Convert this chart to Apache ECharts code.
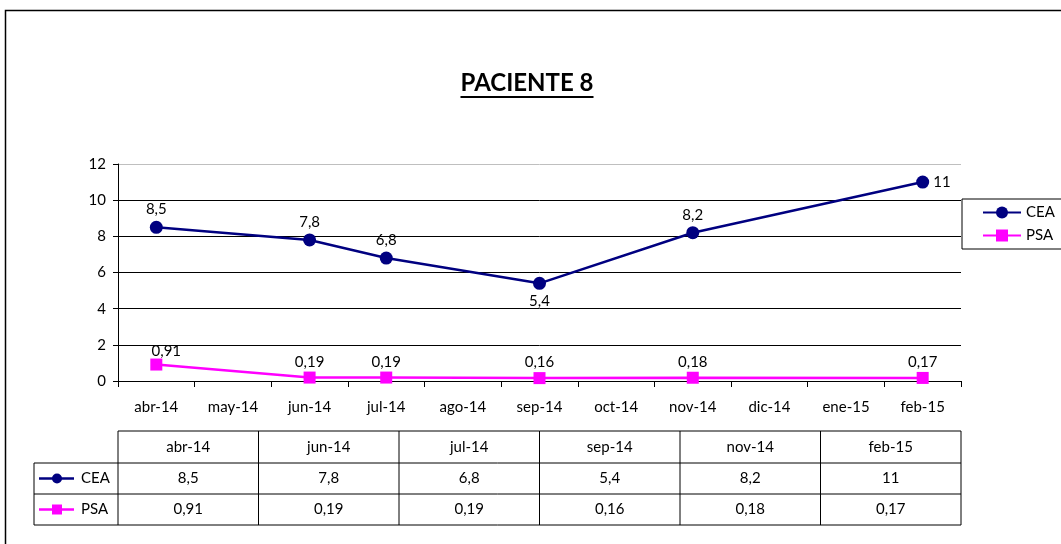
<!DOCTYPE html>
<html><head><meta charset="utf-8">
<script src="https://cdn.jsdelivr.net/npm/echarts@6/dist/echarts.min.js"></script>
<style>html,body{margin:0;padding:0;background:#fff}#c{width:1061px;height:544px}</style>
</head><body><div id="c"></div>
<script>
const months = ['abr-14','may-14','jun-14','jul-14','ago-14','sep-14','oct-14','nov-14','dic-14','ene-15','feb-15'];
const tableMonths = ['abr-14','jun-14','jul-14','sep-14','nov-14','feb-15'];
const cea = [8.5, null, 7.8, 6.8, null, 5.4, null, 8.2, null, null, 11];
const psa = [0.91, null, 0.19, 0.19, null, 0.16, null, 0.18, null, null, 0.17];
const ceaTable = [8.5, 7.8, 6.8, 5.4, 8.2, 11];
const psaTable = [0.91, 0.19, 0.19, 0.16, 0.18, 0.17];
const ceaLabelPos = ['top', null, 'top', 'top', null, 'bottom', null, 'top', null, null, 'right'];
const titleText = 'PACIENTE 8';

const FONT = 'Lato, "Open Sans", sans-serif';
const FS = 15;
const fmt = v => String(v).replace('.', ',');
const G = {left: 118, right: 961, top: 164, bottom: 381};
const NAVY = '#000080', MAG = '#FF00FF';

const chart = echarts.init(document.getElementById('c'));

const TFS = 24;
const mc = document.createElement('canvas').getContext('2d');
mc.font = 'bold ' + TFS + 'px ' + FONT;
const tw = mc.measureText(titleText).width;
const tcx = 527, tcy = 83;

const tbl = [];
tbl.push({type:'text', x:tcx, y:tcy, style:{text:titleText, font:'bold ' + TFS + 'px ' + FONT, fill:'#000', align:'center', verticalAlign:'middle'}, silent:true});
tbl.push({type:'line', shape:{x1:tcx - tw / 2, y1:tcy + 14, x2:tcx + tw / 2, y2:tcy + 14}, style:{stroke:'#000', lineWidth:2}, silent:true});

const colW = (G.right - G.left) / tableMonths.length;
const rowY = [431, 463, 494, 525];
const lblX = 34;
const line = (x1, y1, x2, y2) => ({type:'line', shape:{x1, y1, x2, y2}, style:{stroke:'#000', lineWidth:1}, silent:true});
tbl.push(line(G.left, rowY[0], G.right, rowY[0]));
for (let i = 1; i < 4; i++) tbl.push(line(lblX, rowY[i], G.right, rowY[i]));
tbl.push(line(lblX, rowY[1], lblX, rowY[3]));
for (let j = 0; j <= tableMonths.length; j++) {
  const x = G.left + j * colW;
  tbl.push(line(x, rowY[0], x, rowY[3]));
}
const cellText = (txt, cx, cy) => ({type:'text', x:cx, y:cy, style:{text:txt, font:FS + 'px ' + FONT, fill:'#000', align:'center', verticalAlign:'middle'}, silent:true});
tableMonths.forEach((m, j) => {
  const cx = G.left + (j + 0.5) * colW;
  tbl.push(cellText(m, cx, (rowY[0] + rowY[1]) / 2));
  tbl.push(cellText(fmt(ceaTable[j]), cx, (rowY[1] + rowY[2]) / 2));
  tbl.push(cellText(fmt(psaTable[j]), cx, (rowY[2] + rowY[3]) / 2));
});
[[NAVY, 'circle', 'CEA', 1], [MAG, 'rect', 'PSA', 2]].forEach(([col, sym, name, r]) => {
  const cy = (rowY[r] + rowY[r + 1]) / 2;
  tbl.push({type:'line', shape:{x1:39, y1:cy, x2:74, y2:cy}, style:{stroke:col, lineWidth:2.5}, silent:true});
  if (sym === 'circle') tbl.push({type:'circle', shape:{cx:57, cy:cy, r:5}, style:{fill:col}, silent:true});
  else tbl.push({type:'rect', shape:{x:52, y:cy - 5, width:10, height:10}, style:{fill:col}, silent:true});
  tbl.push({type:'text', x:81, y:cy, style:{text:name, font:FS + 'px ' + FONT, fill:'#000', align:'left', verticalAlign:'middle'}, silent:true});
});
tbl.push({type:'rect', shape:{x:5.5, y:10.5, width:1200, height:700}, style:{fill:'none', stroke:'#000', lineWidth:1.5}, silent:true, z:-1});

chart.setOption({
  backgroundColor: '#fff',
  animation: false,
  legend: {
    orient: 'vertical', left: 962, top: 199, width: 96,
    padding: [6, 8, 6, 20], itemGap: 8, itemWidth: 38, itemHeight: 15,
    borderColor: '#000', borderWidth: 1, backgroundColor: '#fff',
    textStyle: {fontFamily: FONT, fontSize: FS, color: '#000'},
    data: ['CEA', 'PSA']
  },
  grid: {left: G.left, right: 1061 - G.right, top: G.top, bottom: 544 - G.bottom, containLabel: false},
  xAxis: {
    type: 'category', data: months, boundaryGap: true,
    axisLine: {lineStyle: {color: '#000', width: 1}},
    axisTick: {show: true, length: 6, lineStyle: {color: '#000'}, interval: 0},
    axisLabel: {interval: 0, margin: 19, fontFamily: FONT, fontSize: FS, color: '#000'},
    splitLine: {show: false}
  },
  yAxis: {
    type: 'value', min: 0, max: 12, interval: 2,
    axisLine: {show: true, lineStyle: {color: '#000', width: 1}},
    axisTick: {show: true, length: 5, lineStyle: {color: '#000'}},
    axisLabel: {margin: 12, fontFamily: FONT, fontSize: FS, color: '#000'},
    splitLine: {show: true, lineStyle: {color: ['#000', '#000', '#000', '#000', '#000', '#000', '#bfbfbf'], width: 1}}
  },
  series: [
    {
      name: 'CEA', type: 'line', connectNulls: true,
      data: cea.map((v, i) => v === null ? null : {value: v, label: {position: ceaLabelPos[i]}}),
      symbol: 'circle', symbolSize: 13,
      lineStyle: {color: NAVY, width: 2.5}, itemStyle: {color: NAVY},
      label: {show: true, formatter: p => fmt(p.value), fontFamily: FONT, fontSize: FS, color: '#000', distance: 4},
      z: 3
    },
    {
      name: 'PSA', type: 'line', connectNulls: true,
      data: psa.map((v, i) => v === null ? null : (i === 0 ? {value: v, label: {offset: [10, 2]}} : v)),
      symbol: 'rect', symbolSize: 12,
      lineStyle: {color: MAG, width: 2.5}, itemStyle: {color: MAG},
      label: {show: true, position: 'top', formatter: p => fmt(p.value), fontFamily: FONT, fontSize: FS, color: '#000', distance: 2},
      z: 2
    }
  ],
  graphic: tbl
});
</script></body></html>
